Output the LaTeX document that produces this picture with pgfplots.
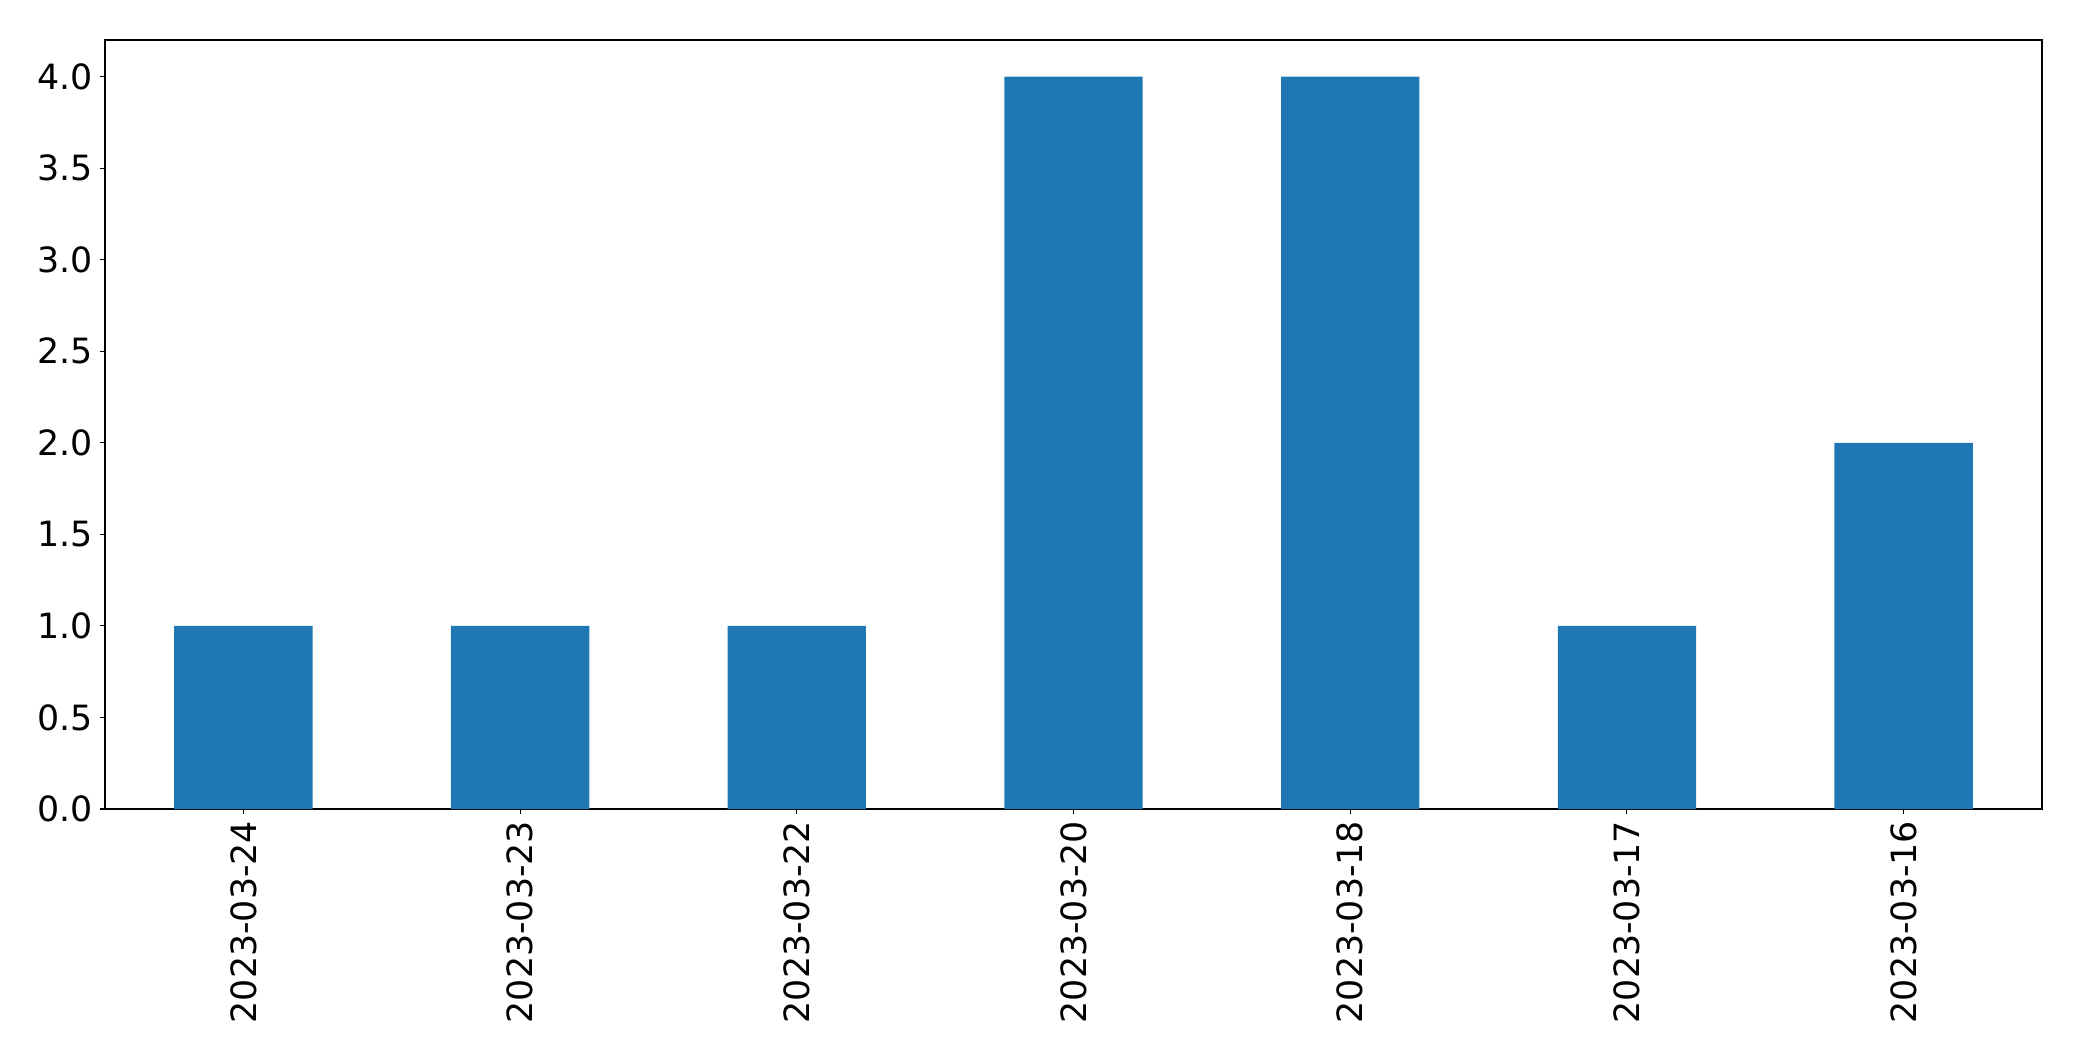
\documentclass[border=0pt]{standalone}
\usepackage{fontspec}
\setmainfont{DejaVu Sans}
\usepackage{pgfplots}
\pgfplotsset{compat=1.18}
\definecolor{mplblue}{HTML}{1F77B4}
\begin{document}
\begin{tikzpicture}
\begin{axis}[
  at={(0,0)}, anchor=south west,
  scale only axis,
  width=968.5pt, height=384.5pt,
  xmin=-0.5, xmax=6.5,
  ymin=0, ymax=4.2,
  xtick={0,...,6},
  xticklabels={2023-03-24,2023-03-23,2023-03-22,2023-03-20,2023-03-18,2023-03-17,2023-03-16},
  ytick={0,0.5,...,4.0},
  yticklabel style={/pgf/number format/.cd,fixed,fixed zerofill,precision=1},
  /pgf/number format/assume math mode=true,
  tick label style={font=\fontsize{17.4pt}{20pt}\selectfont},
  xticklabel style={rotate=90, anchor=east},
  tick align=outside,
  tick pos=left,
  major tick length=2.45pt,
  axis line style={line width=0.55pt},
  every tick/.style={line width=0.55pt, black},
  enlargelimits=false,
]
\addplot[ybar, bar width=0.5, fill=mplblue, draw=none] coordinates {
  (0,1) (1,1) (2,1) (3,4) (4,4) (5,1) (6,2)
};
\end{axis}
\pgfresetboundingbox
\path (-52.5pt,-126pt) rectangle (988.5pt,404.5pt);
\end{tikzpicture}
\end{document}
